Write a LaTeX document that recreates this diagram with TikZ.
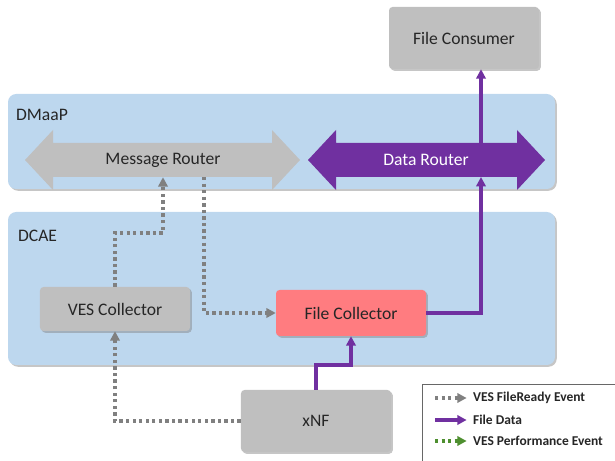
\documentclass[tikz,border=0pt]{standalone}
\usepackage{fontspec}
\setmainfont{Carlito}
\usetikzlibrary{shadows,arrows.meta}

\definecolor{panelblue}{HTML}{BDD7EE}
\definecolor{boxgray}{HTML}{BFBFBF}
\definecolor{fcred}{HTML}{FF7C80}
\definecolor{drpurple}{HTML}{7030A0}
\definecolor{dotgray}{HTML}{808080}
\definecolor{perfgreen}{HTML}{4E8F2F}
\definecolor{txtdark}{HTML}{262626}

\tikzset{
	panel/.style={fill=panelblue, rounded corners=7pt,
		drop shadow={shadow xshift=1.5pt, shadow yshift=-1.5pt, opacity=.45}},
	compbox/.style={fill=boxgray, rounded corners=3pt, text=txtdark,
		minimum width=4.5cm, minimum height=1.35cm, font=\fontsize{15}{17}\selectfont,
		drop shadow={shadow xshift=1.5pt, shadow yshift=-1.5pt, opacity=.45}},
	evt/.style={dotgray, line width=3pt, dash pattern=on 2.8pt off 2.8pt,
		-{Triangle[length=8pt,width=8pt]}},
	filedata/.style={drpurple, line width=3pt, -{Triangle[length=8pt,width=8pt]}},
	perf/.style={perfgreen, line width=3pt, dash pattern=on 2.8pt off 2.8pt,
		-{Triangle[length=8pt,width=8pt]}},
	paneltitle/.style={anchor=west, text=txtdark, font=\fontsize{15}{17}\selectfont},
	legtext/.style={anchor=west, text=txtdark, font=\fontsize{11.5}{13}\selectfont\bfseries},
}

\begin{document}
\begin{tikzpicture}[x=0.03cm,y=-0.03cm]
	\useasboundingbox (0,0) rectangle (615,461);

	%% panels
	\fill[panel] (8,94) rectangle (555,189);
	\node[paneltitle] (dmaap) at (12,115) {DMaaP};
	\fill[panel] (8,212) rectangle (555,365);
	\node[paneltitle] (dcae) at (14,236) {DCAE};

	%% routers
	\fill[boxgray] (25,160) -- (53,130) -- (53,143) -- (272,143) -- (272,130) -- (300,160)
		-- (272,190) -- (272,177) -- (53,177) -- (53,190) -- cycle;
	\node[text=txtdark, font=\fontsize{15}{17}\selectfont, minimum height=1.02cm] (mr) at (163,160) {Message Router};
	\fill[drpurple] (308,160) -- (336,130) -- (336,143) -- (517,143) -- (517,130) -- (545,160)
		-- (517,190) -- (517,177) -- (336,177) -- (336,190) -- cycle;
	\node[text=white, font=\fontsize{15}{17}\selectfont, minimum height=1.02cm] (dr) at (426,160) {Data Router};
	\coordinate (mr out) at (204,177);
	\coordinate (dr in) at (481,177);
	\coordinate (dr out) at (481,156);

	%% components
	\node[compbox, minimum height=1.86cm] (fcons) at (464,38) {File Consumer};
	\node[compbox, minimum height=1.32cm] (ves) at (115,309) {VES Collector};
	\node[compbox, fill=fcred, minimum height=1.38cm] (fc) at (351,313) {File Collector};
	\node[compbox, minimum height=1.86cm] (xnf) at (316,421) {xNF};

	%% connectors
	\draw[evt] (xnf.west) -| (ves.south);
	\draw[evt] (ves.north) -- ++(0,-54) -| (mr.south);
	\draw[evt] (mr out) |- (fc.west);
	\draw[filedata] (xnf.north) -- ++(0,-25) -| (fc.south);
	\draw[filedata] (fc.east) -| (dr in);
	\draw[filedata] (dr out) -- (dr out |- fcons.south);

	%% legend
	\draw[dotgray!80!black, line width=0.6pt, fill=white] (422,384) rectangle (625,470);
	\node[legtext] (lg ready) at (469,398) {VES FileReady Event};
	\node[legtext] (lg data) at (469,420) {File Data};
	\node[legtext] (lg perf) at (469,441) {VES Performance Event};
	\coordinate (lg1) at (435,398);
	\coordinate (lg2) at (435,420);
	\coordinate (lg3) at (435,441);
	\draw[evt] (lg1) -- ([xshift=-2pt]lg ready.west);
	\draw[filedata] (lg2) -- ([xshift=-2pt]lg data.west);
	\draw[perf] (lg3) -- ([xshift=-2pt]lg perf.west);
\end{tikzpicture}
\end{document}
